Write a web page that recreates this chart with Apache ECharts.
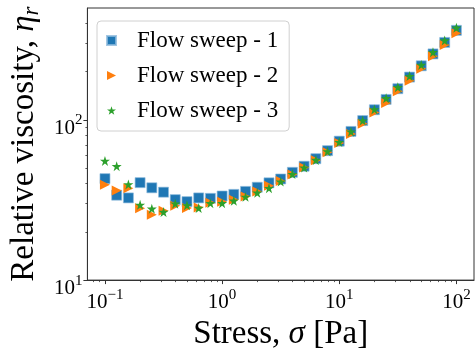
<!DOCTYPE html>
<html>
<head>
<meta charset="utf-8">
<script src="https://cdn.jsdelivr.net/npm/echarts@6/dist/echarts.min.js"></script>
<style>
  html, body { margin: 0; padding: 0; background: #fff; }
  #chart { width: 475px; height: 356px; }
</style>
</head>
<body>
<div id="chart"></div>
<script>
// Applied stress for each step of the sweeps [Pa]
const stress = [0.1, 0.1259, 0.1585, 0.1995, 0.2512, 0.3162, 0.3981, 0.5012, 0.631, 0.7943,
  1, 1.259, 1.585, 1.995, 2.512, 3.162, 3.981, 5.012, 6.31, 7.943,
  10, 12.59, 15.85, 19.95, 25.12, 31.62, 39.81, 50.12, 63.1, 79.43, 100];

// Relative viscosity measured in each sweep
const sweep1 = [43.0, 33.9, 32.6, 40.6, 37.7, 35.4, 31.8, 30.9, 32.6, 32.4,
  33.5, 34.3, 35.8, 38.0, 40.5, 42.8, 47.1, 51.4, 57.3, 64.3,
  73.7, 84.8, 99.1, 115.8, 134.3, 156.7, 185.2, 217.8, 258.4, 304.8, 362.6];
const sweep2 = [39.4, 36.3, 37.4, 28.1, 25.6, 27.1, 29.1, 28.2, 28.4, 30.4,
  30.8, 31.8, 33.3, 35.8, 38.8, 41.6, 45.6, 50.4, 56.0, 62.8,
  71.9, 81.8, 94.7, 111.1, 127.5, 150.9, 175.4, 208.8, 249.5, 294.1, 348.1];
const sweep3 = [55.5, 51.4, 39.6, 29.5, 27.9, 26.6, 30.0, 29.3, 28.2, 30.2,
  30.2, 31.3, 33.1, 35.1, 37.5, 41.2, 45.9, 50.4, 56.2, 63.6,
  72.7, 84.5, 99.1, 116.3, 136.5, 160.0, 187.8, 220.4, 264.6, 313.2, 376.4];

const seriesNames = ['Flow sweep - 1', 'Flow sweep - 2', 'Flow sweep - 3'];

// Axis ranges and tick positions
const xRange = [0.0708, 141.3];
const yRange = [10, 500];
const xMajorTicks = [0.1, 1, 10, 100];
const yMajorTicks = [10, 100];
const xMinorTicks = [0.08, 0.09, 0.2, 0.3, 0.4, 0.5, 0.6, 0.7, 0.8, 0.9,
  2, 3, 4, 5, 6, 7, 8, 9, 20, 30, 40, 50, 60, 70, 80, 90];
const yMinorTicks = [20, 30, 40, 50, 60, 70, 80, 90, 200, 300, 400];

const SERIF = '"Liberation Serif", "DejaVu Serif", serif';
const AXIS_COLOR = '#333';

// Marker shapes
const STAR = 'path://M0,-10 L2.245,-3.09 L9.511,-3.09 L3.633,1.18 L5.878,8.09 L0,3.82 L-5.878,8.09 L-3.633,1.18 L-9.511,-3.09 L-2.245,-3.09 Z';
const TRI_RIGHT = 'path://M0,0 L10,5 L0,10 Z';

function powLabel(v) {
  const e = Math.round(Math.log10(v));
  const s = e < 0 ? '\u2212' + Math.abs(e) : String(e);
  return '{b|10}{s|' + s + '}';
}
const tickRich = {
  b: { fontFamily: SERIF, fontSize: 21, color: '#000', lineHeight: 26, verticalAlign: 'bottom' },
  s: { fontFamily: SERIF, fontSize: 15, color: '#000', lineHeight: 15, verticalAlign: 'top' }
};

function pairs(ys) { return stress.map((x, i) => [x, ys[i]]); }

const option = {
  animation: false,
  backgroundColor: '#fff',
  grid: { left: 83, right: 1, top: 8, bottom: 62, show: true, borderColor: AXIS_COLOR, borderWidth: 1, backgroundColor: 'transparent' },
  xAxis: [
    {
      type: 'log', logBase: 10, min: xRange[0], max: xRange[1],
      name: 'Stress, {i|\u03C3} [Pa]',
      nameLocation: 'middle', nameGap: 30,
      nameTextStyle: {
        fontFamily: SERIF, fontSize: 33, color: '#000',
        rich: { i: { fontFamily: SERIF, fontStyle: 'italic', fontSize: 33, color: '#000' } }
      },
      axisLine: { show: true, lineStyle: { color: AXIS_COLOR, width: 1 } },
      axisTick: { show: true, length: 4, inside: false, customValues: xMajorTicks, lineStyle: { color: AXIS_COLOR } },
      axisLabel: { customValues: xMajorTicks, formatter: powLabel, rich: tickRich, margin: 7 },
      splitLine: { show: false }
    },
    {
      type: 'log', logBase: 10, min: xRange[0], max: xRange[1], position: 'bottom',
      axisLine: { show: false },
      axisTick: { show: true, length: 2, customValues: xMinorTicks, lineStyle: { color: AXIS_COLOR, width: 0.8 } },
      axisLabel: { show: false },
      splitLine: { show: false }
    }
  ],
  yAxis: [
    {
      type: 'log', logBase: 10, min: yRange[0], max: yRange[1],
      name: 'Relative viscosity, {i|\u03B7}{sub|r}',
      nameLocation: 'middle', nameGap: 37, nameRotate: 90,
      nameTextStyle: {
        fontFamily: SERIF, fontSize: 33, color: '#000',
        rich: {
          i: { fontFamily: SERIF, fontStyle: 'italic', fontSize: 33, color: '#000' },
          sub: { fontFamily: SERIF, fontStyle: 'italic', fontSize: 23, color: '#000', padding: [14, 0, 0, 0] }
        }
      },
      axisLine: { show: true, lineStyle: { color: AXIS_COLOR, width: 1 } },
      axisTick: { show: true, length: 4, customValues: yMajorTicks, lineStyle: { color: AXIS_COLOR } },
      axisLabel: { customValues: yMajorTicks, formatter: powLabel, rich: tickRich, margin: 5, padding: [12, 0, 0, 0] },
      splitLine: { show: false }
    },
    {
      type: 'log', logBase: 10, min: yRange[0], max: yRange[1], position: 'left',
      axisLine: { show: false },
      axisTick: { show: true, length: 2, customValues: yMinorTicks, lineStyle: { color: AXIS_COLOR, width: 0.8 } },
      axisLabel: { show: false },
      splitLine: { show: false }
    }
  ],
  legend: {
    orient: 'vertical',
    left: 97, top: 21,
    padding: [8, 11, 9, 9],
    itemGap: 12,
    itemWidth: 9, itemHeight: 9,
    backgroundColor: 'rgba(255,255,255,0.8)',
    borderColor: '#d0d0d0', borderWidth: 1, borderRadius: 4,
    textStyle: { fontFamily: SERIF, fontSize: 23, color: '#000', lineHeight: 23, padding: [0, 0, 0, 16] },
    data: [
      { name: seriesNames[0], icon: 'rect' },
      { name: seriesNames[1], icon: TRI_RIGHT },
      { name: seriesNames[2], icon: STAR, itemStyle: { color: '#2ca02c' } }
    ]
  },
  series: [
    {
      name: seriesNames[0], type: 'scatter', data: pairs(sweep1),
      symbol: 'rect', symbolSize: 10,
      itemStyle: { color: '#1f77b4', opacity: 1, borderColor: 'rgba(140,185,220,0.8)', borderWidth: 0.8 }
    },
    {
      name: seriesNames[1], type: 'scatter', data: pairs(sweep2),
      symbol: 'triangle', symbolSize: [10, 10], symbolRotate: -90,
      itemStyle: { color: '#ff7f0e', opacity: 1 }
    },
    {
      name: seriesNames[2], type: 'scatter', data: pairs(sweep3),
      symbol: STAR, symbolSize: 10,
      itemStyle: { color: '#2ca02c', opacity: 1 }
    }
  ]
};

const chart = echarts.init(document.getElementById('chart'), null, { renderer: 'canvas' });
chart.setOption(option);
</script>
</body>
</html>
